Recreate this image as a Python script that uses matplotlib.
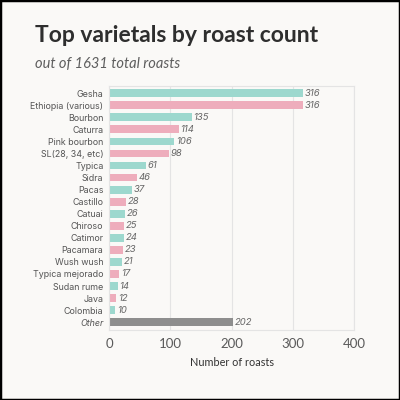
import matplotlib
matplotlib.use("Agg")
from matplotlib import pyplot as plt
from matplotlib.patches import Rectangle

varietals = ["Gesha", "Ethiopia (various)", "Bourbon", "Caturra", "Pink bourbon",
             "SL(28, 34, etc)", "Typica", "Sidra", "Pacas", "Castillo", "Catuai",
             "Chiroso", "Catimor", "Pacamara", "Wush wush", "Typica mejorado",
             "Sudan rume", "Java", "Colombia", "Other"]
counts = [316, 316, 135, 114, 106, 98, 61, 46, 37, 28, 26, 25, 24, 23, 21, 17, 14, 12, 10, 202]
total_roasts = 1631
xticks = [0, 100, 200, 300, 400]

teal = "#9dd8ce"
pink = "#eeadbc"
grey = "#8e8e8e"
bg = "#faf9f7"

colors = [teal if i % 2 == 0 else pink for i in range(len(varietals) - 1)] + [grey]

fig = plt.figure(figsize=(4, 4), dpi=100, facecolor=bg)
fig.patches.append(Rectangle((0, 0), 1, 1, transform=fig.transFigure, fill=False,
                             edgecolor="black", linewidth=2.5))
ax = fig.add_axes([0.2725, 0.175, 0.6125, 0.61])
ax.set_facecolor(bg)

ypos = list(range(len(varietals)))
ax.barh(ypos, counts, height=0.65, color=colors, zorder=2)
for y, c in zip(ypos, counts):
    ax.text(c + 3, y, str(c), va="center", ha="left", fontsize=6.8, style="italic",
            color="#666666", family="Inter")

ax.set_ylim(19.65, -0.6)
ax.set_xlim(0, 400)
ax.set_xticks(xticks)
ax.set_xticklabels([str(t) for t in xticks], fontsize=9.5, color="#5a5a5a", family="Lato")
ax.set_yticks(ypos)
ax.set_yticklabels(varietals, fontsize=6.4, color="#555555", family="Inter")
ax.get_yticklabels()[-1].set_style("italic")
ax.tick_params(length=0, pad=4)
ax.tick_params(axis="x", pad=6)
ax.grid(axis="x", color="#e4e4e4", linewidth=0.8, zorder=0)
for s in ax.spines.values():
    s.set_color("#e4e4e4")
    s.set_linewidth(0.8)
ax.set_xlabel("Number of roasts", fontsize=7.8, color="#333333", family="Lato", labelpad=5)

fig.text(0.088, 0.895, "Top varietals by roast count", fontsize=16.5, fontweight="bold",
         color="#2e2e2e", family="Lato")
fig.text(0.088, 0.83, "out of %d total roasts" % total_roasts, fontsize=10.5, style="italic",
         color="#5e5e5e", family="Lato")

fig.savefig("out.png", dpi=100, facecolor=bg)
